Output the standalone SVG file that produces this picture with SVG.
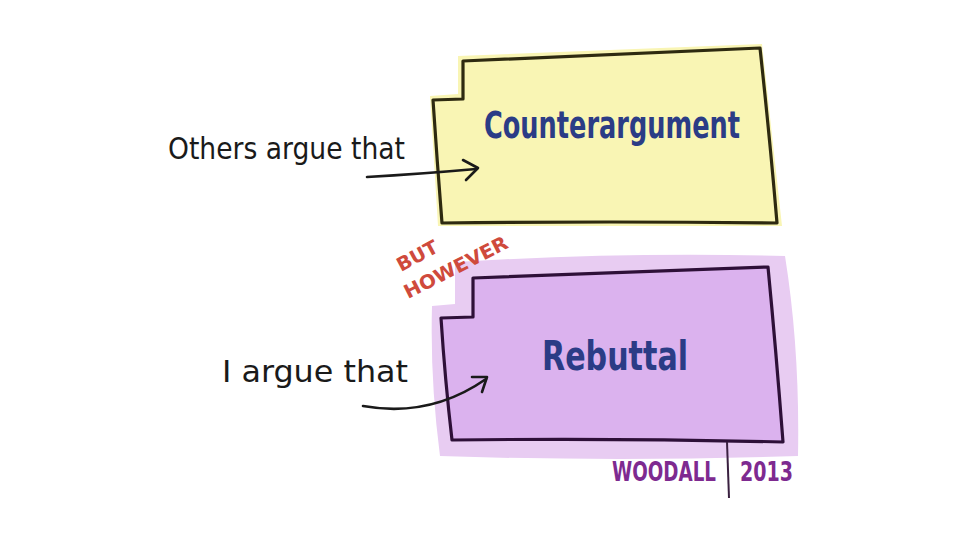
<svg xmlns="http://www.w3.org/2000/svg" width="960" height="540" viewBox="0 0 960 540">
<defs>
<style>
.outline{fill:none;stroke-width:3.2;stroke-linejoin:round;stroke-linecap:round}
.hand{font-family:"DejaVu Sans Condensed","DejaVu Sans",sans-serif}
.conn{fill:none;stroke:#1a1a1a;stroke-width:2.6;stroke-linecap:round;stroke-linejoin:round}
</style>
</defs>
<rect width="960" height="540" fill="#ffffff"/>
<g id="counterargument">
<path d="M458,56 L762,44 L782,226 L438,226 L430,96 L458,94 Z" fill="#f9f5b4"/>
<path class="outline" stroke="#2e2a10" d="M463,61 Q610,55 760,48 Q770,140 777,223 Q610,221 442,223 Q437,160 433,100 L463,99 L463,61"/>
<text class="hand" x="484" y="138" font-size="38" font-weight="bold" fill="#2b3c86" textLength="256" lengthAdjust="spacingAndGlyphs">Counterargument</text>
</g>
<g id="rebuttal">
<path d="M455,262 Q620,252 785,256 Q800,350 798,456 Q620,462 440,456 Q430,380 432,306 L455,304 Z" fill="#e8ccf2"/>
<path d="M473,278 L768,267 L783,442 L452,440 L441,318 L473,317 Z" fill="#dbb2ee"/>
<path class="outline" stroke="#2e1038" d="M473,278 Q620,272 768,267 Q776,350 783,442 Q620,438 452,440 Q445,380 441,318 L473,317 L473,278"/>
<text class="hand" x="542" y="370" font-size="40" font-weight="bold" fill="#2b3c86" textLength="146" lengthAdjust="spacingAndGlyphs">Rebuttal</text>
</g>
<g id="others-label">
<text class="hand" x="168" y="159" font-size="31" fill="#1a1a1a" textLength="237" lengthAdjust="spacingAndGlyphs">Others argue that</text>
</g>
<g id="i-label">
<text class="hand" x="222" y="382" font-size="31" fill="#1a1a1a" textLength="186" lengthAdjust="spacingAndGlyphs">I argue that</text>
</g>
<g id="but-however">
<text class="hand" font-size="19" font-weight="bold" fill="#cf4a3c" transform="translate(401,272) rotate(-28)" textLength="44" lengthAdjust="spacingAndGlyphs">BUT</text>
<text class="hand" font-size="19" font-weight="bold" fill="#cf4a3c" transform="translate(408,299) rotate(-27)" textLength="114" lengthAdjust="spacingAndGlyphs">HOWEVER</text>
</g>
<g id="signature">
<path d="M727,442 L729,498" stroke="#3a2040" stroke-width="2" fill="none"/>
<text class="hand" x="612" y="481" font-size="26" font-weight="bold" fill="#7e2a90" textLength="104" lengthAdjust="spacingAndGlyphs">WOODALL</text>
<text class="hand" x="740" y="481" font-size="26" font-weight="bold" fill="#7e2a90" textLength="53" lengthAdjust="spacingAndGlyphs">2013</text>
</g>
<g id="connectors">
<path class="conn" d="M367,177 Q420,174 476,169"/>
<path class="conn" d="M463,160 L478,168 L466,180"/>
<path class="conn" d="M363,406 Q430,418 486,379"/>
<path class="conn" d="M472,377 L487,377 L482,392"/>
</g>
</svg>
